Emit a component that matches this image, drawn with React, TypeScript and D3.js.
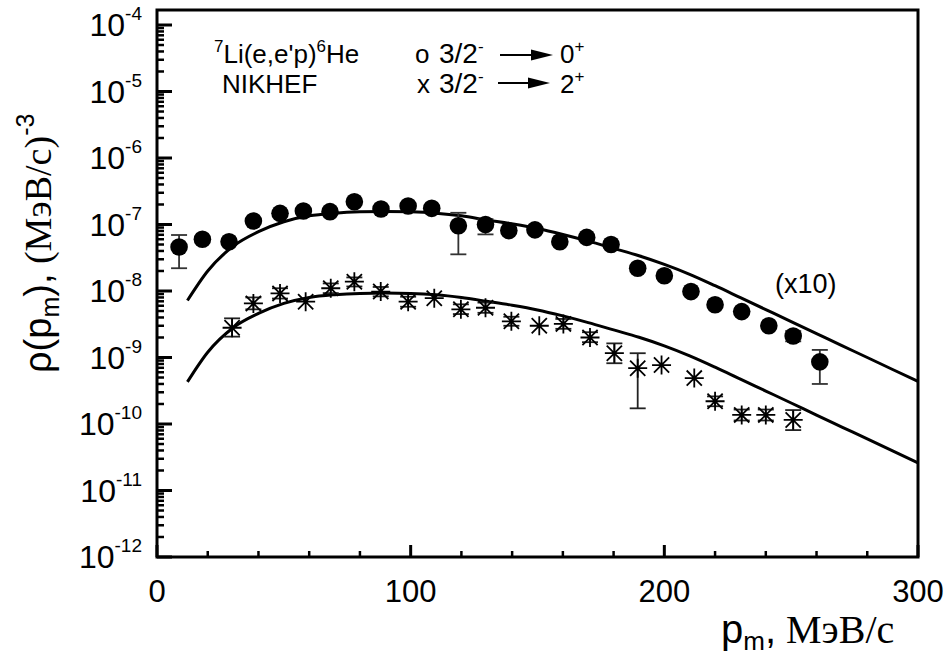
import React from 'react';
import * as d3 from 'd3';

const W = 946;
const H = 661;

// x-axis ticks
const xMajorTicks = [0, 100, 200, 300];
const xMinorTicks = [20, 40, 60, 80, 120, 140, 160, 180, 220, 240, 260, 280];
// y-axis decade exponents
const yDecades = [-4, -5, -6, -7, -8, -9, -10, -11, -12];

// 3/2- -> 0+ (x10), filled circles
const circleP = [8.7, 17.9, 28.4, 38, 48.5, 57.7, 68.2, 77.8, 88.3, 99, 108.3, 118.8, 129.5, 138.7, 149, 158.8, 169.4, 179, 189.5, 200, 210.5, 220, 230.5, 241.2, 250.8, 261.3];
const circleV = [4.6e-8, 6.0e-8, 5.5e-8, 1.13e-7, 1.47e-7, 1.6e-7, 1.56e-7, 2.2e-7, 1.71e-7, 1.9e-7, 1.75e-7, 9.6e-8, 1.0e-7, 8.1e-8, 8.3e-8, 5.5e-8, 6.4e-8, 5.0e-8, 2.2e-8, 1.7e-8, 9.8e-9, 6.2e-9, 4.9e-9, 3.0e-9, 2.1e-9, 8.6e-10];
const circleHi = [6.95e-8, null, null, null, null, null, null, null, null, null, null, 1.5e-7, 1.2e-7, null, null, null, null, null, null, null, null, null, null, null, 2.5e-9, 1.3e-9];
const circleLo = [2.2e-8, null, null, null, null, null, null, null, null, null, null, 3.56e-8, 7.1e-8, null, null, null, null, null, null, null, null, null, null, null, 1.75e-9, 4.0e-10];

// 3/2- -> 2+, asterisks
const starP = [29.6, 38, 48.5, 58.6, 68.5, 77.8, 88.2, 99, 109.3, 119.8, 129.5, 139.7, 150.7, 160.2, 170.7, 180.3, 189.5, 198.9, 211.8, 220, 230.5, 240, 250.8];
const starV = [2.8e-9, 6.5e-9, 9.2e-9, 6.9e-9, 1.1e-8, 1.38e-8, 9.8e-9, 6.9e-9, 7.8e-9, 5.3e-9, 5.6e-9, 3.5e-9, 3.0e-9, 3.2e-9, 2.0e-9, 1.16e-9, 6.9e-10, 7.7e-10, 4.9e-10, 2.2e-10, 1.37e-10, 1.37e-10, 1.15e-10];
const starHi = [3.88e-9, 8.0e-9, 1.1e-8, null, 1.3e-8, 1.6e-8, 1.15e-8, 8.2e-9, null, 6.3e-9, 6.7e-9, 4.1e-9, null, 3.8e-9, 2.4e-9, 1.63e-9, 1.16e-9, null, null, 2.6e-10, 1.65e-10, 1.65e-10, 1.62e-10];
const starLo = [2.06e-9, 5.3e-9, 7.7e-9, null, 9.3e-9, 1.17e-8, 8.3e-9, 5.8e-9, null, 4.5e-9, 4.7e-9, 3.0e-9, null, 2.7e-9, 1.7e-9, 8.2e-10, 1.72e-10, null, null, 1.85e-10, 1.13e-10, 1.13e-10, 8.1e-11];

// theory curves
const curveP = [12, 20, 30, 40, 50, 60, 70, 80, 90, 100, 110, 120, 130, 140, 150, 160, 170, 180, 190, 200, 210, 220, 230, 240, 250, 260, 270, 280, 290, 300];
const curveUpper = [7.2e-9, 2.0e-8, 4.7e-8, 7.8e-8, 1.1e-7, 1.35e-7, 1.48e-7, 1.55e-7, 1.57e-7, 1.55e-7, 1.48e-7, 1.35e-7, 1.17e-7, 1.02e-7, 8.7e-8, 7.08e-8, 5.62e-8, 4.37e-8, 3.39e-8, 2.51e-8, 1.78e-8, 1.2e-8, 7.94e-9, 5.25e-9, 3.47e-9, 2.29e-9, 1.51e-9, 1.0e-9, 6.6e-10, 4.37e-10];
const curveLower = [4.3e-10, 1.2e-9, 2.8e-9, 4.6e-9, 6.5e-9, 8.0e-9, 8.8e-9, 9.2e-9, 9.3e-9, 9.2e-9, 8.8e-9, 8.0e-9, 7.0e-9, 6.1e-9, 5.19e-9, 4.22e-9, 3.35e-9, 2.6e-9, 2.02e-9, 1.5e-9, 1.06e-9, 7.16e-10, 4.73e-10, 3.13e-10, 2.07e-10, 1.36e-10, 9.0e-11, 5.96e-11, 3.94e-11, 2.6e-11];

const SANS = '"Liberation Sans", Arial, sans-serif';
const SERIF = '"Liberation Serif", "Times New Roman", serif';

function starPath(cx: number, cy: number, r: number) {
  const d = r * 0.8;
  return `M${cx},${cy - r}L${cx},${cy + r}M${cx - d},${cy - d}L${cx + d},${cy + d}M${cx - d},${cy + d}L${cx + d},${cy - d}M${cx - r},${cy}L${cx + r},${cy}`;
}

function Arrow({ x1, x2, yy }: { x1: number; x2: number; yy: number }) {
  return (
    <g>
      <line x1={x1} x2={x2 - 16} y1={yy} y2={yy} stroke="#000" strokeWidth={2.2} />
      <path d={`M${x2 - 22},${yy - 5.5}L${x2},${yy}L${x2 - 22},${yy + 5.5}Z`} fill="#000" />
    </g>
  );
}

export default function App() {
  const x = d3.scaleLinear().domain([0, 300]).range([157, 918]);
  const y = d3.scaleLog().domain([1e-12, 1e-4]).range([557, 25]);
  const left = 157, right = 918, top = 10, bottom = 557;

  const line = d3
    .line<number>()
    .x((_, i) => x(curveP[i]))
    .curve(d3.curveMonotoneX);
  const upperPath = line.y((d) => y(d))(curveUpper) || '';
  const lowerPath = line.y((d) => y(d))(curveLower) || '';

  const yMinor: number[] = [];
  for (let e = -12; e < -4; e++) {
    for (let k = 2; k <= 9; k++) yMinor.push(k * Math.pow(10, e));
  }

  const capW = 8;
  const LF = 26;
  const LS = 17;

  return (
    <svg width={W} height={H} style={{ position: 'absolute', left: 0, top: 0, background: '#fff' }}>
      <rect x={0} y={0} width={W} height={H} fill="#fff" />
      {/* frame */}
      <rect x={left} y={top} width={right - left} height={bottom - top} fill="none" stroke="#000" strokeWidth={3} />
      {/* y ticks */}
      {yDecades.map((e) => (
        <line key={'ym' + e} x1={left} x2={left + 15} y1={y(Math.pow(10, e))} y2={y(Math.pow(10, e))} stroke="#000" strokeWidth={3} />
      ))}
      {yMinor.map((v, i) => (
        <line key={'yn' + i} x1={left} x2={left + 7} y1={y(v)} y2={y(v)} stroke="#000" strokeWidth={2.5} />
      ))}
      {/* x ticks */}
      {xMajorTicks.map((t) => (
        <line key={'xm' + t} x1={x(t)} x2={x(t)} y1={bottom} y2={bottom - 12} stroke="#000" strokeWidth={3} />
      ))}
      {xMinorTicks.map((t) => (
        <line key={'xn' + t} x1={x(t)} x2={x(t)} y1={bottom} y2={bottom - 6} stroke="#000" strokeWidth={2.5} />
      ))}
      {/* y tick labels */}
      {yDecades.map((e) => (
        <text key={'yl' + e} x={142} y={y(Math.pow(10, e)) + 11} textAnchor="end" fontFamily={SANS} fontSize={32}>
          10
          <tspan fontSize={19} dy={-16}>{String(e)}</tspan>
        </text>
      ))}
      {/* x tick labels */}
      {xMajorTicks.map((t) => (
        <text key={'xl' + t} x={x(t)} y={602} textAnchor="middle" fontFamily={SANS} fontSize={31}>
          {t}
        </text>
      ))}
      {/* axis titles */}
      <text x={721} y={643} fontFamily={SANS} fontSize={40}>
        p<tspan fontSize={26} dy={7}>m</tspan>
        <tspan dy={-7}>,</tspan>
        <tspan fontFamily={SERIF}> MэB/c</tspan>
      </text>
      <text transform="translate(51,373) rotate(-90)" fontFamily={SANS} fontSize={38}>
        ρ(p<tspan fontSize={25} dy={8}>m</tspan>
        <tspan dy={-8}>),</tspan>
        <tspan fontFamily={SERIF}> (MэB/c)</tspan>
        <tspan fontSize={25} dy={-17}>-3</tspan>
      </text>
      {/* curves */}
      <path d={upperPath} fill="none" stroke="#000" strokeWidth={3} />
      <path d={lowerPath} fill="none" stroke="#000" strokeWidth={3} />
      {/* circle error bars */}
      {circleP.map((p, i) =>
        circleHi[i] != null ? (
          <g key={'ce' + i} stroke="#333" strokeWidth={1.8}>
            <line x1={x(p)} x2={x(p)} y1={y(circleHi[i] as number)} y2={y(circleLo[i] as number)} />
            <line x1={x(p) - capW} x2={x(p) + capW} y1={y(circleHi[i] as number)} y2={y(circleHi[i] as number)} />
            <line x1={x(p) - capW} x2={x(p) + capW} y1={y(circleLo[i] as number)} y2={y(circleLo[i] as number)} />
          </g>
        ) : null
      )}
      {circleP.map((p, i) => (
        <circle key={'c' + i} cx={x(p)} cy={y(circleV[i])} r={8.8} fill="#000" />
      ))}
      {/* star error bars */}
      {starP.map((p, i) =>
        starHi[i] != null ? (
          <g key={'se' + i} stroke="#222" strokeWidth={1.8}>
            <line x1={x(p)} x2={x(p)} y1={y(starHi[i] as number)} y2={y(starLo[i] as number)} />
            <line x1={x(p) - capW} x2={x(p) + capW} y1={y(starHi[i] as number)} y2={y(starHi[i] as number)} />
            <line x1={x(p) - capW} x2={x(p) + capW} y1={y(starLo[i] as number)} y2={y(starLo[i] as number)} />
          </g>
        ) : null
      )}
      {starP.map((p, i) => (
        <path key={'s' + i} d={starPath(x(p), y(starV[i]), 9.5)} stroke="#000" strokeWidth={1.8} fill="none" />
      ))}
      {/* legend / annotations */}
      <text x={214} y={63} fontFamily={SANS} fontSize={LF}>
        <tspan fontSize={LS} dy={-11}>7</tspan>
        <tspan dy={11}>Li(e,e'p)</tspan>
        <tspan fontSize={LS} dy={-11}>6</tspan>
        <tspan dy={11}>He</tspan>
      </text>
      <text x={222} y={93} fontFamily={SANS} fontSize={LF}>NIKHEF</text>
      <text x={415} y={63} fontFamily={SANS} fontSize={LF}>o</text>
      <text x={439} y={63} fontFamily={SANS} fontSize={28}>
        3/2<tspan fontSize={LS} dy={-11}>-</tspan>
      </text>
      <Arrow x1={500} x2={553} yy={55} />
      <text x={560} y={63} fontFamily={SANS} fontSize={LF}>
        0<tspan fontSize={LS} dy={-11}>+</tspan>
      </text>
      <text x={417} y={93} fontFamily={SANS} fontSize={LF}>x</text>
      <text x={439} y={93} fontFamily={SANS} fontSize={28}>
        3/2<tspan fontSize={LS} dy={-11}>-</tspan>
      </text>
      <Arrow x1={498} x2={550} yy={83} />
      <text x={560} y={93} fontFamily={SANS} fontSize={LF}>
        2<tspan fontSize={LS} dy={-11}>+</tspan>
      </text>
      <text x={775} y={293} fontFamily={SANS} fontSize={27}>(x10)</text>
    </svg>
  );
}
